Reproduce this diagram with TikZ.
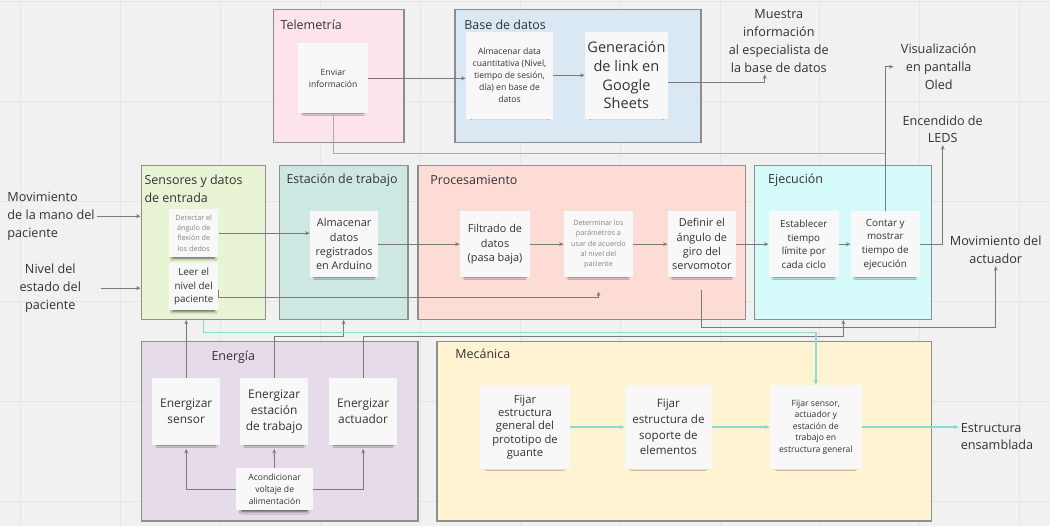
\documentclass[tikz,border=0pt]{standalone}
\usepackage{fontspec}
\setmainfont{Open Sans}
\usepackage{xcolor}
\usetikzlibrary{positioning,arrows.meta,fit,shadows.blur}

\definecolor{bgcol}{HTML}{F1F1F1}
\definecolor{gridcol}{HTML}{E5E5E5}
\definecolor{linecol}{HTML}{7A7A7A}
\definecolor{paleline}{HTML}{ABABAB}
\definecolor{tealcol}{HTML}{8CDAD4}
\definecolor{cardcol}{HTML}{F8F8F8}
\definecolor{txtcol}{HTML}{333333}
\definecolor{paletxt}{HTML}{858585}
\definecolor{boxline}{HTML}{8E8E8E}
\definecolor{telefill}{HTML}{FDE4EC}
\definecolor{bdfill}{HTML}{DAE8F4}
\definecolor{sensfill}{HTML}{E8F4D3}
\definecolor{estfill}{HTML}{CDE8E2}
\definecolor{procfill}{HTML}{FDDCD6}
\definecolor{ejfill}{HTML}{D4FAF9}
\definecolor{enfill}{HTML}{E6DBE8}
\definecolor{mecfill}{HTML}{FFF3D1}

\begin{document}
\begin{tikzpicture}[x=0.02cm,y=-0.02cm,
    grp/.style={draw=boxline, line width=0.7pt, inner sep=0pt},
    gtitle/.style={anchor=west, align=left, inner sep=0pt, text=txtcol, font=\fontsize{7.1}{10.2}\selectfont},
    card/.style={fill=cardcol, align=center, text=txtcol, inner sep=1pt,
        blur shadow={shadow xshift=0pt, shadow yshift=-3.2pt, shadow scale=0.86, shadow opacity=60, shadow blur radius=1.5pt}},
    lbl/.style={align=center, text=txtcol, inner sep=1pt, font=\fontsize{7.2}{10.2}\selectfont},
    txa/.style={font=\fontsize{8.3}{10.6}\selectfont},
    txb/.style={font=\fontsize{6.8}{9.2}\selectfont},
    txc/.style={font=\fontsize{6.2}{8.2}\selectfont},
    txd/.style={font=\fontsize{5.6}{7.8}\selectfont},
    txe/.style={font=\fontsize{4.9}{6.8}\selectfont},
    txf/.style={font=\fontsize{4.1}{5.8}\selectfont, text=paletxt},
    conn/.style={draw=linecol, line width=0.5pt, -{Stealth[length=2.6pt,width=2.2pt]}},
    paleconn/.style={draw=paleline, line width=0.5pt},
    tconn/.style={draw=tealcol, line width=0.8pt, -{Stealth[length=2.8pt,width=2.4pt]}}]

    % Canvas and grid
    \fill[bgcol] (0,0) rectangle (1050,526);
    \foreach \gx in {20,120,...,1020}
        \draw[gridcol, line width=0.4pt] (\gx,0) -- (\gx,526);
    \foreach \gy in {1,101,...,501}
        \draw[gridcol, line width=0.4pt] (0,\gy) -- (1050,\gy);

    % Groups
    \node[grp, fill=telefill, fit={(273,9) (404,142)}] (tele) {};
    \node[grp, fill=bdfill, fit={(455,9) (701,142)}] (bdatos) {};
    \node[grp, fill=sensfill, fit={(141,165) (265,319)}] (sensores) {};
    \node[grp, fill=estfill, fit={(279,165) (408,319)}] (estacion) {};
    \node[grp, fill=procfill, fit={(418,165) (746,319)}] (proc) {};
    \node[grp, fill=ejfill, fit={(755,165) (932,319)}] (ejec) {};
    \node[grp, fill=enfill, fit={(141,341) (418,521)}] (energia) {};
    \node[grp, fill=mecfill, fit={(437,341) (932,521)}] (mecanica) {};

    \node[gtitle] (teletit) at (280,24) {Telemetría};
    \node[gtitle] (bdtit) at (464,24) {Base de datos};
    \node[gtitle] (senstit) at (144,189) {Sensores y datos\\de entrada};
    \node[gtitle] (esttit) at (286,180) {Estación de trabajo};
    \node[gtitle] (proctit) at (430,180) {Procesamiento};
    \node[gtitle] (ejtit) at (768,180) {Ejecución};
    \node[gtitle] (entit) at (211,357) {Energía};
    \node[gtitle] (mectit) at (455,354) {Mecánica};

    % Cards
    \node[card, txe, minimum width=1.4cm, minimum height=1.4cm] (envio) at (333,78) {Enviar\\información};
    \node[card, txe, minimum width=1.74cm, minimum height=1.74cm] (almdata) at (509.5,75) {Almacenar data\\cuantitativa (Nivel,\\tiempo de sesión,\\día) en base de\\datos};
    \node[card, txa, minimum width=1.66cm, minimum height=1.74cm] (genlink) at (626.5,75) {Generación\\de link en\\Google\\Sheets};

    \node[card, txf, minimum width=0.98cm, minimum height=0.96cm] (detectar) at (193.5,233) {Detectar el\\ángulo de\\flexión de\\los dedos};
    \node[card, txd, minimum width=0.98cm, minimum height=0.94cm] (leer) at (193.5,286.5) {Leer el\\nivel del\\paciente};
    \node[card, txc, minimum width=1.36cm, minimum height=1.32cm] (arduino) at (344,244) {Almacenar\\datos\\registrados\\en Arduino};
    \node[card, txc, minimum width=1.4cm, minimum height=1.32cm] (filtrado) at (495,244) {Filtrado de\\datos\\(pasa baja)};
    \node[card, txf, minimum width=1.38cm, minimum height=1.32cm] (determinar) at (598.5,244) {Determinar los\\parámetros a\\usar de acuerdo\\al nivel del\\paciente};
    \node[card, txc, minimum width=1.36cm, minimum height=1.32cm] (definir) at (702,244) {Definir el\\ángulo de\\giro del\\servomotor};
    \node[card, txd, minimum width=1.4cm, minimum height=1.32cm] (establecer) at (804,244) {Establecer\\tiempo\\límite por\\cada ciclo};
    \node[card, txd, minimum width=1.38cm, minimum height=1.32cm] (contar) at (885.5,244) {Contar y\\mostrar\\tiempo de\\ejecución};

    \node[card, txb, minimum width=1.36cm, minimum height=1.34cm] (ensensor) at (186,411.5) {Energizar\\sensor};
    \node[card, txb, minimum width=1.36cm, minimum height=1.34cm] (enestacion) at (274,411.5) {Energizar\\estación\\de trabajo};
    \node[card, txb, minimum width=1.36cm, minimum height=1.34cm] (enactuador) at (363,411.5) {Energizar\\actuador};
    \node[card, txe, minimum width=1.54cm, minimum height=0.84cm] (acond) at (274.5,489) {Acondicionar\\voltaje de\\alimentación};

    \node[card, font=\fontsize{6.4}{7.6}\selectfont, minimum width=1.8cm, minimum height=1.68cm] (fijar1) at (525,427) {Fijar\\estructura\\general del\\prototipo de\\guante};
    \node[card, font=\fontsize{6.6}{8.9}\selectfont, minimum width=1.74cm, minimum height=1.68cm] (fijar2) at (668.5,427) {Fijar\\estructura de\\soporte de\\elementos};
    \node[card, font=\fontsize{4.9}{6.6}\selectfont, minimum width=1.84cm, minimum height=1.68cm] (fijar3) at (816,427) {Fijar sensor,\\actuador y\\estación de\\trabajo en\\estructura general};

    % Outside labels
    \node[lbl] (muestra) at (779,40.5) {Muestra\\información\\al especialista de\\la base de datos};
    \node[lbl] (oled) at (939,66.5) {Visualización\\en pantalla\\Oled};
    \node[lbl] (leds) at (943,129) {Encendido de\\LEDS};
    \node[lbl] (actuador) at (996,250) {Movimiento del\\actuador};
    \node[lbl, anchor=west, align=left] (mano) at (5,216) {Movimiento\\de la mano del\\paciente};
    \node[lbl] (nivel) at (50,288) {Nivel del\\estado del\\paciente};
    \node[lbl, anchor=west, align=left] (ensamblada) at (959,436.5) {Estructura\\ensamblada};
    \coordinate (telejoin) at (885.5,153);

    % Connectors
    \draw[conn] (mano.east) -- (mano.east -| sensores.west);
    \draw[conn] ([xshift=10pt]nivel.east) -- (nivel.east -| sensores.west);
    \draw[conn] (detectar.east) -- (detectar.east -| arduino.west);
    \draw[conn] ([yshift=-2pt]leer.east) -- ++(0,7) -| ([yshift=-8pt]determinar.south);
    \draw[conn] (arduino) -- (filtrado);
    \draw[conn] (filtrado) -- (determinar);
    \draw[conn] (determinar) -- (definir);
    \draw[conn] (definir) -- (establecer);
    \draw[conn] (establecer) -- (contar);
    \draw[conn] (contar.east) -| (leds.south);
    \draw[conn, shorten >=3pt] (contar.north) |- (oled.west);
    \draw[paleconn] (envio.south) |- (telejoin);
    \draw[conn] ([yshift=-7pt]definir.south) -- ++(0,38) -| (actuador.south);

    \draw[conn] (envio.east) -- (envio.east -| almdata.west);
    \draw[conn] (almdata) -- (genlink);
    \draw[conn] ([yshift=-4pt]genlink.east) -| ([xshift=-8pt]muestra.south);

    \draw[conn] (ensensor.north) -- (ensensor.north |- sensores.south);
    \draw[conn] (enestacion.north) -- ++(0,-41) -| (estacion.south);
    \draw[conn] (enactuador.north) -- ++(0,-41) -| (ejec.south);
    \draw[conn] (acond.west) -| ([yshift=-2pt]ensensor.south);
    \draw[conn] (acond.north) -- ([yshift=-2pt]enestacion.south);
    \draw[conn] (acond.east) -| ([yshift=-2pt]enactuador.south);

    \draw[tconn] (sensores.south) -- ++(0,13) -| (fijar3.north);
    \draw[tconn] (fijar1) -- (fijar2);
    \draw[tconn] (fijar2) -- (fijar3);
    \draw[tconn] (fijar3.east) -- (fijar3.east -| ensamblada.west);
\end{tikzpicture}
\end{document}
